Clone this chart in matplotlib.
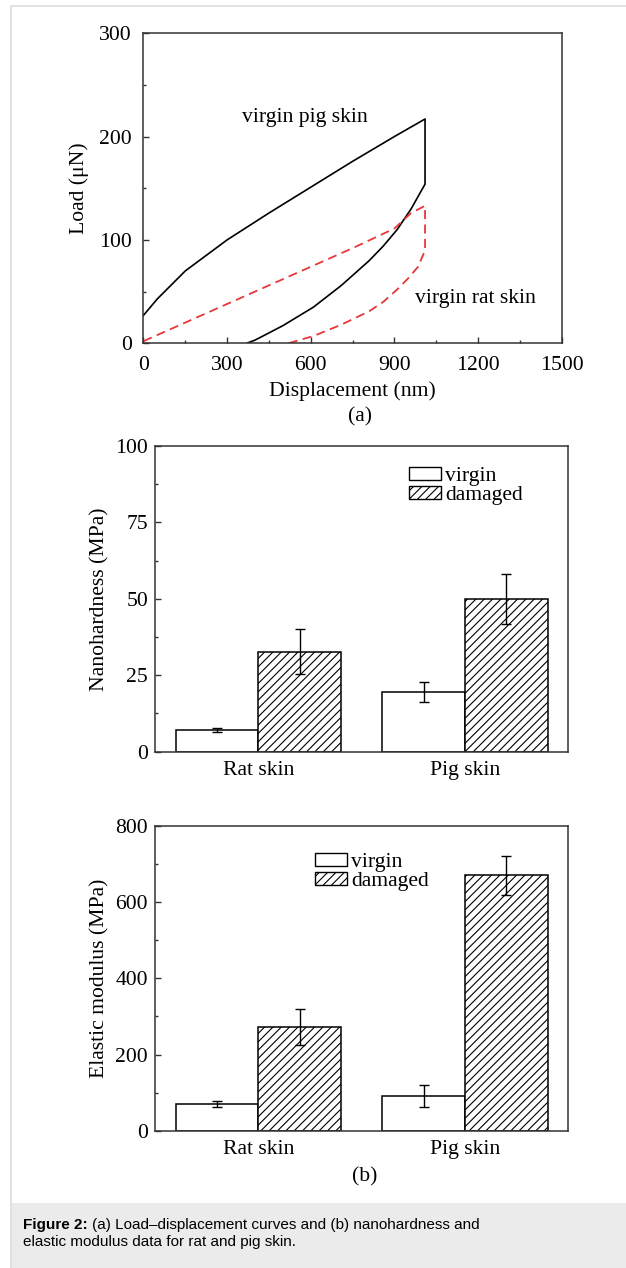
import matplotlib
matplotlib.use('Agg')
import matplotlib.pyplot as plt
from matplotlib.patches import Rectangle
from matplotlib.lines import Line2D
from matplotlib.ticker import MultipleLocator
import numpy as np

# load-displacement curves (nm, uN)
pig_disp = [0, 50, 150, 300, 450, 600, 750, 900, 1010, 1010, 960, 910, 860, 810, 710, 610, 500, 400, 370]
pig_load = [27, 43, 70, 100, 126, 151, 176, 200, 217, 154, 130, 110, 94, 80, 56, 35, 17, 3, 0]
rat_disp = [0, 150, 300, 450, 600, 750, 900, 960, 1010, 1010, 985, 950, 910, 860, 810, 710, 610, 520]
rat_load = [2, 20, 38, 56, 74, 92, 111, 126, 133, 90, 74, 63, 52, 40, 31, 18, 7, 0]

groups = ['Rat skin', 'Pig skin']
hard_virgin = [7.0, 19.4]
hard_virgin_err = [0.7, 3.3]
hard_damaged = [32.7, 50.0]
hard_damaged_err = [7.3, 8.1]
mod_virgin = [70, 91]
mod_virgin_err = [7.5, 28.5]
mod_damaged = [273, 670]
mod_damaged_err = [47, 51]

serif = 'Liberation Serif'
fs = 15.6
plt.rcParams['font.family'] = serif
plt.rcParams['hatch.linewidth'] = 0.8
plt.rcParams['axes.linewidth'] = 1.1

fig = plt.figure(figsize=(6.26, 12.68), dpi=100)

# page frame and caption box
fig.add_artist(Line2D([11/626, 11/626], [1 - 6/1268, 0], color='#dddddd', lw=1.2, transform=fig.transFigure))
fig.add_artist(Line2D([11/626, 1], [1 - 6/1268, 1 - 6/1268], color='#dddddd', lw=1.2, transform=fig.transFigure))
fig.add_artist(Rectangle((11/626, 0), 1, 65/1268, facecolor='#ebebeb', edgecolor='none', transform=fig.transFigure))


def style_ax(ax, xpad, ypad):
    ax.tick_params(which='both', direction='in', labelsize=fs, color='#333333')
    ax.tick_params(which='major', length=4.3, width=1.0)
    ax.tick_params(which='minor', length=2.5, width=1.0)
    ax.tick_params(axis='x', pad=xpad)
    ax.tick_params(axis='y', pad=ypad)
    for s in ax.spines.values():
        s.set_color('#333333')


# (a) load-displacement
ax = fig.add_axes([0.2292, 0.7293, 0.668, 0.2445])
ax.plot(pig_disp, pig_load, color='black', lw=1.2)
ax.plot(rat_disp, rat_load, color='#e8363b', lw=1.3, linestyle=(0, (5, 3)))
ax.set_xlim(0, 1500)
ax.set_ylim(0, 300)
ax.xaxis.set_major_locator(MultipleLocator(300))
ax.xaxis.set_minor_locator(MultipleLocator(150))
ax.yaxis.set_major_locator(MultipleLocator(100))
ax.yaxis.set_minor_locator(MultipleLocator(50))
style_ax(ax, 9, 8.5)
ax.set_xlabel('Displacement (nm)', fontsize=fs, labelpad=4.5)
ax.set_ylabel('Load (μN)', fontsize=fs, labelpad=7)
ax.text(352, 218, 'virgin pig skin', fontsize=fs, va='center', ha='left')
ax.text(974, 43.5, 'virgin rat skin', fontsize=fs, va='center', ha='left')
fig.text(360/626, 1 - 417/1268, '(a)', fontsize=fs, ha='center', va='center')


def bar_panel(rect, virgin, virgin_err, damaged, damaged_err, ymax, major, minor, ylabel, leg_xy):
    ax = fig.add_axes(rect)
    x = np.arange(len(groups))
    w = 0.4
    ax.bar(x - w/2, virgin, w, color='white', edgecolor='black', lw=1.1)
    ax.bar(x + w/2, damaged, w, color='white', edgecolor='black', lw=1.1, hatch='////')
    ax.errorbar(x - w/2, virgin, yerr=virgin_err, fmt='none', ecolor='black', elinewidth=1.0, capsize=3.5, capthick=1.0)
    ax.errorbar(x + w/2, damaged, yerr=damaged_err, fmt='none', ecolor='black', elinewidth=1.0, capsize=3.5, capthick=1.0)
    ax.set_xlim(-0.5, 1.5)
    ax.set_ylim(0, ymax)
    ax.set_xticks(x)
    ax.set_xticklabels(groups)
    ax.yaxis.set_major_locator(MultipleLocator(major))
    ax.yaxis.set_minor_locator(MultipleLocator(minor))
    style_ax(ax, 7, 5)
    ax.tick_params(axis='x', which='both', length=0)
    ax.set_ylabel(ylabel, fontsize=fs, labelpad=4)
    handles = [Rectangle((0, 0), 1, 1, facecolor='white', edgecolor='black', lw=1.0),
               Rectangle((0, 0), 1, 1, facecolor='white', edgecolor='black', lw=1.0, hatch='////')]
    ax.legend(handles, ['virgin', 'damaged'], loc='upper left', bbox_to_anchor=leg_xy,
              frameon=False, fontsize=fs, handlelength=1.45, handleheight=0.55,
              handletextpad=0.2, labelspacing=0.0, borderpad=0, borderaxespad=0)
    return ax


bar_panel([0.2476, 0.4072, 0.6602, 0.2411], hard_virgin, hard_virgin_err, hard_damaged, hard_damaged_err,
          100, 25, 12.5, 'Nanohardness (MPa)', (0.615, 0.932))
bar_panel([0.2476, 0.1083, 0.6602, 0.2403], mod_virgin, mod_virgin_err, mod_damaged, mod_damaged_err,
          800, 200, 100, 'Elastic modulus (MPa)', (0.388, 0.912))
fig.text(365/626, 1 - 1177/1268, '(b)', fontsize=fs, ha='center', va='center')

# caption: bold lead-in, then the rest of the first line after it
cap_font = 'Liberation Sans'
cap_fs = 11
lead = fig.text(23/626, 1 - 1225/1268, 'Figure 2:', fontsize=cap_fs, family=cap_font, weight='bold', va='center')
r = fig.canvas.get_renderer()
lead_end = lead.get_window_extent(renderer=r).x1
fig.text((lead_end + 4)/626, 1 - 1225/1268, '(a) Load–displacement curves and (b) nanohardness and',
         fontsize=cap_fs, family=cap_font, va='center')
fig.text(23/626, 1 - 1242/1268, 'elastic modulus data for rat and pig skin.', fontsize=cap_fs, family=cap_font, va='center')

fig.savefig('out.png', dpi=100)
